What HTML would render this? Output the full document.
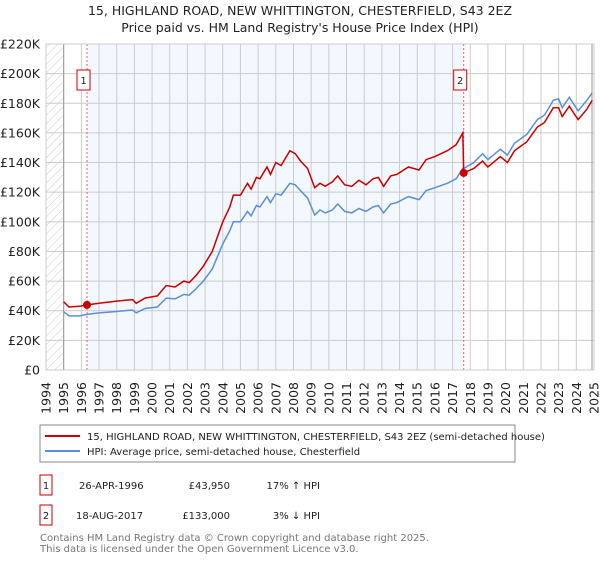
<!DOCTYPE html>
<html><head><meta charset="utf-8"><style>
body{margin:0;background:#fff;font-family:"DejaVu Sans","Liberation Sans",sans-serif;}
svg text{font-family:"DejaVu Sans","Liberation Sans",sans-serif;}
</style></head><body>
<svg id="chart" width="600" height="560" xmlns="http://www.w3.org/2000/svg">
<defs><pattern id="hatch" width="6" height="6" patternUnits="userSpaceOnUse" patternTransform="rotate(45)"><line x1="0" y1="0" x2="0" y2="6" stroke="#ccc" stroke-width="1"/></pattern></defs>
<text x="300" y="15" text-anchor="middle" font-size="12.5" fill="#222">15, HIGHLAND ROAD, NEW WHITTINGTON, CHESTERFIELD, S43 2EZ</text>
<text x="300" y="32" text-anchor="middle" font-size="12.5" fill="#222">Price paid vs. HM Land Registry's House Price Index (HPI)</text>
<g id="plot"></g>
<rect x="40" y="425" width="475" height="37" fill="#fff" stroke="#888"/>
<line x1="45" y1="436" x2="80" y2="436" stroke="#cc0000" stroke-width="2"/>
<text x="87" y="440" font-size="10" fill="#222">15, HIGHLAND ROAD, NEW WHITTINGTON, CHESTERFIELD, S43 2EZ (semi-detached house)</text>
<line x1="45" y1="451" x2="80" y2="451" stroke="#5b8fd6" stroke-width="2"/>
<text x="87" y="455" font-size="10" fill="#222">HPI: Average price, semi-detached house, Chesterfield</text>
<g font-size="10" fill="#222">
<rect x="40" y="475" width="12" height="20" fill="#fff" stroke="#cc0000"/>
<text x="46" y="489" text-anchor="middle">1</text>
<text x="79" y="489">26-APR-1996</text>
<text x="230" y="489" text-anchor="end">£43,950</text>
<text x="320" y="489" text-anchor="end">17% ↑ HPI</text>
</g>
<g font-size="10" fill="#222">
<rect x="40" y="505" width="12" height="20" fill="#fff" stroke="#cc0000"/>
<text x="46" y="519" text-anchor="middle">2</text>
<text x="76" y="519">18-AUG-2017</text>
<text x="230" y="519" text-anchor="end">£133,000</text>
<text x="320" y="519" text-anchor="end">3% ↓ HPI</text>
</g>
<text x="40" y="541" font-size="10" fill="#777">Contains HM Land Registry data © Crown copyright and database right 2025.</text>
<text x="40" y="552" font-size="10" fill="#777">This data is licensed under the Open Government Licence v3.0.</text>
</svg>
<script>
const years=[1995.0,1995.3,1995.9,1996.32,1997.0,1998.0,1998.9,1999.1,1999.6,2000.3,2000.8,2001.3,2001.8,2002.1,2002.5,2002.9,2003.4,2004.0,2004.4,2004.6,2005.0,2005.4,2005.6,2005.9,2006.1,2006.5,2006.7,2007.0,2007.3,2007.8,2008.1,2008.4,2008.8,2009.2,2009.5,2009.8,2010.2,2010.5,2010.9,2011.3,2011.7,2012.1,2012.5,2012.8,2013.1,2013.5,2013.85,2014.5,2015.1,2015.5,2016.0,2016.7,2017.2,2017.58,2017.63,2018.2,2018.7,2019.0,2019.7,2020.1,2020.5,2021.2,2021.8,2022.2,2022.7,2023.0,2023.2,2023.6,2024.1,2024.6,2024.9];
const hpi=[39.3,36.5,36.5,37.5,38.5,39.5,40.5,38.5,41.5,42.5,48.5,48,51,50.5,55,60,68,85,94,100,100,107,104,111,110,117,113,119,118,126,125,121,116,104.6,108,106,108,112,107,106,109,107,110,111,106,112,113,117,115,121,123,126,129,136,136,140,146,142,149,145,153,159,169,172,182,183,177,184,175,182,187];
const price=[46,42.5,43,43.95,45,46.5,47.5,45,48.5,50,57,56,60,59,64,70,80,100,110,118,118,126,122,130,129,137,132,140,138,148,146,141,136,123,126,124,127,131,125,124,128,125,129,130,124,131,132,137,135,142,144,148,152,160,133,136,141,137,144,140,148,154,164,167,177,177,171,178,169,176,182];
const yTicks=[0,20,40,60,80,100,120,140,160,180,200,220];
const yLabels=["£0","£20K","£40K","£60K","£80K","£100K","£120K","£140K","£160K","£180K","£200K","£220K"];
const xTicks=[1994,1995,1996,1997,1998,1999,2000,2001,2002,2003,2004,2005,2006,2007,2008,2009,2010,2011,2012,2013,2014,2015,2016,2017,2018,2019,2020,2021,2022,2023,2024,2025];
const saleYears=[1996.32,2017.63];
const salePrices=[43.95,133];
const saleLabels=["1","2"];
const L=46,R=594,T=44,B=370;
const xs=y=>L+(y-1994)/31*(R-L);
const ys=v=>B-v/220*(B-T);
const NS="http://www.w3.org/2000/svg";
const g=document.getElementById('plot');
function mk(t,a,p){const e=document.createElementNS(NS,t);for(const k in a)e.setAttribute(k,a[k]);(p||g).appendChild(e);return e;}
let e;
e=mk('rect',{x:L,y:T,width:R-L,height:B-T,fill:'#fff'});


e=mk('rect',{x:xs(saleYears[0]),y:T,width:xs(saleYears[1])-xs(saleYears[0]),height:B-T,fill:'#eef3fd',opacity:0.7});


e=mk('rect',{x:L,y:T,width:xs(1995)-L,height:B-T,fill:'url(#hatch)'});


yTicks.forEach((v,i)=>{
 e=mk('line',{x1:L,x2:R,y1:ys(v),y2:ys(v),stroke:'#ccc','stroke-width':1});
 
 
 e=mk('text',{x:40,y:ys(v)+4.5,'text-anchor':'end','font-size':12.5,fill:'#222'});
 e.textContent=yLabels[i];
 
 
});
xTicks.forEach(y=>{
 e=mk('line',{x1:xs(y),x2:xs(y),y1:T,y2:B,stroke:'#ccc','stroke-width':1});
 
 
 const tx=xs(y)+4.5;
 e=mk('text',{x:tx,y:382,'text-anchor':'end','font-size':12.5,fill:'#222',transform:'rotate(-90 '+tx+' 382)'});
 e.textContent=y;
 
 
});
e=mk('line',{x1:xs(1995),x2:xs(1995),y1:T,y2:B,stroke:'#999'});


e=mk('line',{x1:R-2,x2:R-2,y1:T,y2:B,stroke:'#999'});


saleYears.forEach((y,i)=>{
 e=mk('line',{x1:xs(y),x2:xs(y),y1:T,y2:B,stroke:'#e06060','stroke-dasharray':'2,2','stroke-width':1});
 
 
});
const path=(arr)=>years.map((y,i)=>(i?'L':'M')+xs(y).toFixed(1)+','+ys(arr[i]).toFixed(1)).join('');
e=mk('path',{d:path(hpi),fill:'none',stroke:'#5b8fd6','stroke-width':1.5});


e=mk('path',{d:path(price),fill:'none',stroke:'#cc0000','stroke-width':1.5});


saleYears.forEach((y,i)=>{
 e=mk('circle',{cx:xs(y),cy:ys(salePrices[i]),r:4,fill:'#cc0000'});
 
 
 e=mk('rect',{x:xs(y)-10,y:70,width:13,height:20,fill:'#fff',stroke:'#cc0000'});
 
 
 e=mk('text',{x:xs(y)-3.5,y:84,'text-anchor':'middle','font-size':10,fill:'#222'});
 e.textContent=saleLabels[i];
 
 
});
e=mk('rect',{x:L,y:T,width:R-L,height:B-T,fill:'none',stroke:'#ccc'});


</script>
</body></html>
